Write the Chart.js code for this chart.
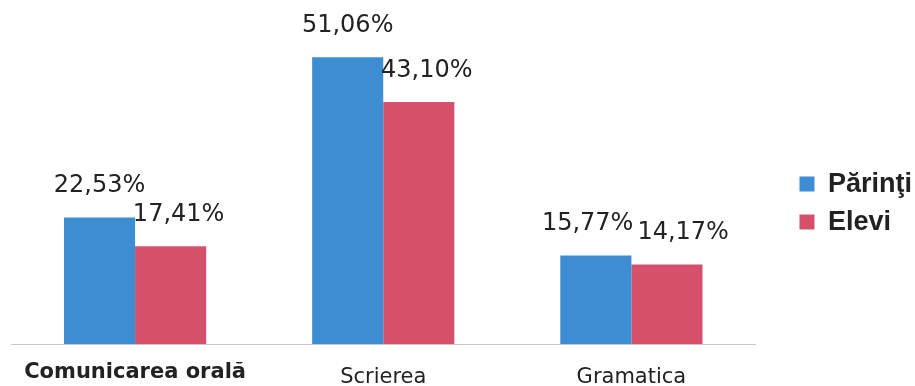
<!doctype html>
<html>

<head>
  <script src="https://cdn.jsdelivr.net/npm/chart.js@4/dist/chart.umd.min.js"></script>
  <style>
    html, body { margin: 0; padding: 0; background: #fff; }
  </style>
</head>

<body>
  <div style="width: 915px; height: 386px;">
    <canvas id="canvas"></canvas>
  </div>
  <script>
    const categories = ['Comunicarea orală', 'Scrierea', 'Gramatica'];
    const parinti = [22.53, 51.06, 15.77];
    const elevi = [17.41, 43.10, 14.17];

    const fmt = (v) => v.toFixed(2).replace('.', ',') + '%';

    // value labels above each bar; pushes the pair apart when they would collide
    const valueLabels = {
      id: 'valueLabels',
      afterDatasetsDraw(chart) {
        const ctx = chart.ctx;
        ctx.save();
        ctx.font = '24px "DejaVu Sans"';
        ctx.fillStyle = '#222';
        ctx.textAlign = 'center';
        ctx.textBaseline = 'alphabetic';
        const a = chart.getDatasetMeta(0).data;
        const b = chart.getDatasetMeta(1).data;
        categories.forEach((c, j) => {
          const ta = fmt(chart.data.datasets[0].data[j]);
          const tb = fmt(chart.data.datasets[1].data[j]);
          const wa = ctx.measureText(ta).width;
          const wb = ctx.measureText(tb).width;
          let xa = a[j].x, xb = b[j].x + 8;
          const ya = a[j].y - 25, yb = b[j].y - 25;
          const overlap = (xa + wa / 2) - (xb - wb / 2) + 4;
          if (Math.abs(ya - yb) < 20 && overlap > 0) {
            xa -= overlap / 2;
            xb += overlap / 2;
          }
          ctx.fillText(ta, xa, ya);
          ctx.fillText(tb, xb, yb);
        });
        ctx.restore();
      }
    };

    new Chart(document.getElementById('canvas').getContext('2d'), {
      type: 'bar',
      data: {
        labels: categories,
        datasets: [{
          label: 'Părinţi',
          data: parinti,
          backgroundColor: '#3c8dd2'
        }, {
          label: 'Elevi',
          data: elevi,
          backgroundColor: '#d5506b'
        }]
      },
      options: {
        responsive: true,
        maintainAspectRatio: false,
        animation: false,
        datasets: {
          bar: { categoryPercentage: 0.573, barPercentage: 1 }
        },
        layout: {
          padding: { top: 7, left: 11, right: -7, bottom: 0 }
        },
        scales: {
          x: {
            grid: { display: false },
            border: { color: '#c8c8c8', width: 1 },
            ticks: {
              color: '#222',
              padding: 13,
              font: (c) => c.index === 0
                ? { family: 'DejaVu Sans', size: 21, weight: 'bold', lineHeight: 0.7 }
                : { family: 'DejaVu Sans', size: 21, lineHeight: 1.2 }
            },
            afterFit: (s) => { s.height = 42; }
          },
          y: {
            position: 'right',
            min: 0,
            max: 60,
            grid: { display: false },
            border: { display: false },
            ticks: { display: false },
            afterFit: (s) => { s.width = 33; }
          }
        },
        plugins: {
          legend: {
            position: 'right',
            title: { display: true, text: ' ', font: { size: 1 }, padding: { top: 6, bottom: 6 } },
            labels: {
              color: '#222',
              boxWidth: 15,
              boxHeight: 15,
              padding: 11,
              font: { family: 'Liberation Sans', size: 27, weight: 'bold' }
            }
          },
          tooltip: { enabled: false }
        }
      },
      plugins: [valueLabels]
    });
  </script>
</body>

</html>
